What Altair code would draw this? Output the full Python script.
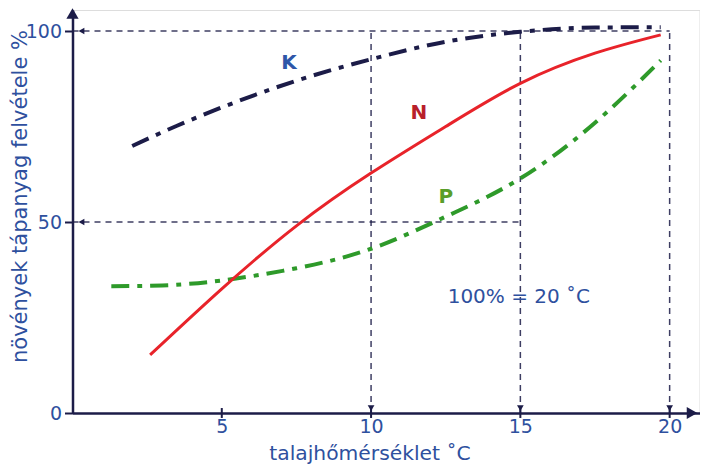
import altair as alt
import pandas as pd

# ---- data ----
k_temp = [2.0, 3.5, 5, 7.5, 10, 12.5, 15, 17.5, 19.7]
k_val = [69.9, 75.2, 80.0, 87.0, 92.6, 97.2, 99.8, 100.9, 101.0]

n_temp = [2.6, 5, 7.5, 10, 12.5, 15, 17.5, 19.7]
n_val = [15.2, 32.5, 49.0, 62.8, 75.0, 86.3, 94.2, 99.0]

p_temp = [1.3, 3, 5, 7.5, 10, 12.5, 15, 17.5, 19.7]
p_val = [33.2, 33.4, 34.7, 37.9, 43.0, 51.4, 61.4, 76.0, 92.3]

x_ticks = [5, 10, 15, 20]
y_ticks = [0, 50, 100]

# dashed guide lines
h_guides_y = [100, 50]
h_guides_xend = [20, 15]
v_guides_x = [10, 15, 20]
v_guides_yend = [100, 100, 100]

series_names = ["K", "N", "P"]
series_label_x = [7.25, 11.6, 12.5]
series_label_y = [91.6, 78.6, 56.6]

note_text = ["100% = 20 ˚C"]
note_x = [14.95]
note_y = [30.4]

x_title = "talajhőmérséklet ˚C"
y_title = "növények tápanyag felvétele %"

# ---- styling ----
NAVY = "#1c1c48"
BLUE = "#2e509e"
FONT = "DejaVu Sans"

xs = alt.Scale(domain=[0, 21], nice=False, zero=False)
ys = alt.Scale(domain=[0, 105.5], nice=False, zero=False)

k_df = pd.DataFrame({"t": k_temp, "v": k_val})
n_df = pd.DataFrame({"t": n_temp, "v": n_val})
p_df = pd.DataFrame({"t": p_temp, "v": p_val})

h_df = pd.DataFrame({"y": h_guides_y, "x0": [0] * len(h_guides_y), "x1": h_guides_xend})
v_df = pd.DataFrame({"x": v_guides_x, "y0": [0] * len(v_guides_x), "y1": v_guides_yend})

base_x_axis = alt.Axis(
    values=x_ticks, ticks=False, grid=False, domain=True,
    domainColor=NAVY, domainWidth=2.5,
    labelColor=BLUE, labelFont=FONT, labelFontSize=19, labelPadding=4,
    title=x_title, titleColor=BLUE, titleFont=FONT, titleFontSize=20.3,
    titleFontWeight="normal", titleX=297, titleY=46,
    titleAlign="center", titleBaseline="alphabetic",
)
base_y_axis = alt.Axis(
    values=y_ticks, ticks=True, tickSize=8, tickColor=NAVY, tickWidth=2,
    grid=False, domain=True, domainColor=NAVY, domainWidth=2.5,
    labelColor=BLUE, labelFont=FONT, labelFontSize=19, labelPadding=3,
    title=y_title, titleColor=BLUE, titleFont=FONT, titleFontSize=21,
    titleFontWeight="normal", titleAngle=270, titleX=-52, titleY=186,
    titleAlign="center", titleBaseline="middle",
)

# axes holder (draws real axes)
axes_layer = alt.Chart(pd.DataFrame({"t": [0], "v": [0]})).mark_point(opacity=0).encode(
    x=alt.X("t:Q", scale=xs, axis=base_x_axis),
    y=alt.Y("v:Q", scale=ys, axis=base_y_axis),
)

h_rules = alt.Chart(h_df).mark_rule(color=NAVY, strokeDash=[6, 5], strokeWidth=1.5, opacity=0.85).encode(
    x=alt.X("x0:Q", scale=xs), x2="x1:Q", y=alt.Y("y:Q", scale=ys)
)
v_rules = alt.Chart(v_df).mark_rule(color=NAVY, strokeDash=[6, 5], strokeWidth=1.5, opacity=0.85).encode(
    x=alt.X("x:Q", scale=xs), y=alt.Y("y0:Q", scale=ys), y2="y1:Q"
)

h_arrows = alt.Chart(h_df).mark_point(shape="triangle-left", filled=True, color=NAVY, size=45, opacity=1).encode(
    x=alt.X("a:Q", scale=xs), y=alt.Y("y:Q", scale=ys)
).transform_calculate(a="0.3")
v_arrows = alt.Chart(v_df).mark_point(shape="triangle-down", filled=True, color=NAVY, size=45, opacity=1).encode(
    x=alt.X("x:Q", scale=xs), y=alt.Y("a:Q", scale=ys)
).transform_calculate(a="1.3")

x_tick_df = pd.DataFrame({"x": x_ticks})
x_tick_rules = alt.Chart(x_tick_df).mark_rule(color=NAVY, strokeWidth=2).encode(
    x=alt.X("x:Q", scale=xs), y=alt.Y("lo:Q", scale=ys), y2="hi:Q"
).transform_calculate(lo="-1.3", hi="1.3")

axis_arrows = alt.Chart(pd.DataFrame({"t": [20.75, 0], "v": [0, 104.6], "s": ["triangle-right", "triangle-up"]})).mark_point(
    filled=True, color=NAVY, size=150, opacity=1
).encode(
    x=alt.X("t:Q", scale=xs), y=alt.Y("v:Q", scale=ys),
    shape=alt.Shape("s:N", scale=None, legend=None),
)

k_line = alt.Chart(k_df).mark_line(color=NAVY, strokeWidth=4, strokeDash=[18, 8, 5, 8], interpolate="monotone").encode(
    x=alt.X("t:Q", scale=xs), y=alt.Y("v:Q", scale=ys)
)
p_line = alt.Chart(p_df).mark_line(color="#2e9a2a", strokeWidth=4, strokeDash=[18, 8, 5, 8], interpolate="natural").encode(
    x=alt.X("t:Q", scale=xs), y=alt.Y("v:Q", scale=ys)
)
n_line = alt.Chart(n_df).mark_line(color="#e8232a", strokeWidth=3, interpolate="natural").encode(
    x=alt.X("t:Q", scale=xs), y=alt.Y("v:Q", scale=ys)
)

lab_df = pd.DataFrame({"name": series_names, "x": series_label_x, "y": series_label_y})
labels = alt.Chart(lab_df).mark_text(font=FONT, fontSize=20, fontWeight="bold").encode(
    x=alt.X("x:Q", scale=xs), y=alt.Y("y:Q", scale=ys), text="name:N",
    color=alt.Color("name:N", scale=alt.Scale(domain=series_names, range=["#2e56a8", "#b8202a", "#5a9e2a"]), legend=None),
)

note_df = pd.DataFrame({"text": note_text, "x": note_x, "y": note_y})
note = alt.Chart(note_df).mark_text(font=FONT, fontSize=20, color=BLUE).encode(
    x=alt.X("x:Q", scale=xs), y=alt.Y("y:Q", scale=ys), text="text:N"
)

chart = alt.layer(
    axes_layer, h_rules, v_rules, h_arrows, v_arrows, x_tick_rules,
    k_line, p_line, n_line, labels, note, axis_arrows,
).properties(
    width=627, height=403,
    autosize=alt.AutoSizeParams(type="none"),
    padding={"left": 64.5, "top": 2, "right": 0, "bottom": 52},
).configure_view(stroke=None).configure(background="white")

chart.save("out.html", embed_options={"renderer": "svg", "actions": False})
